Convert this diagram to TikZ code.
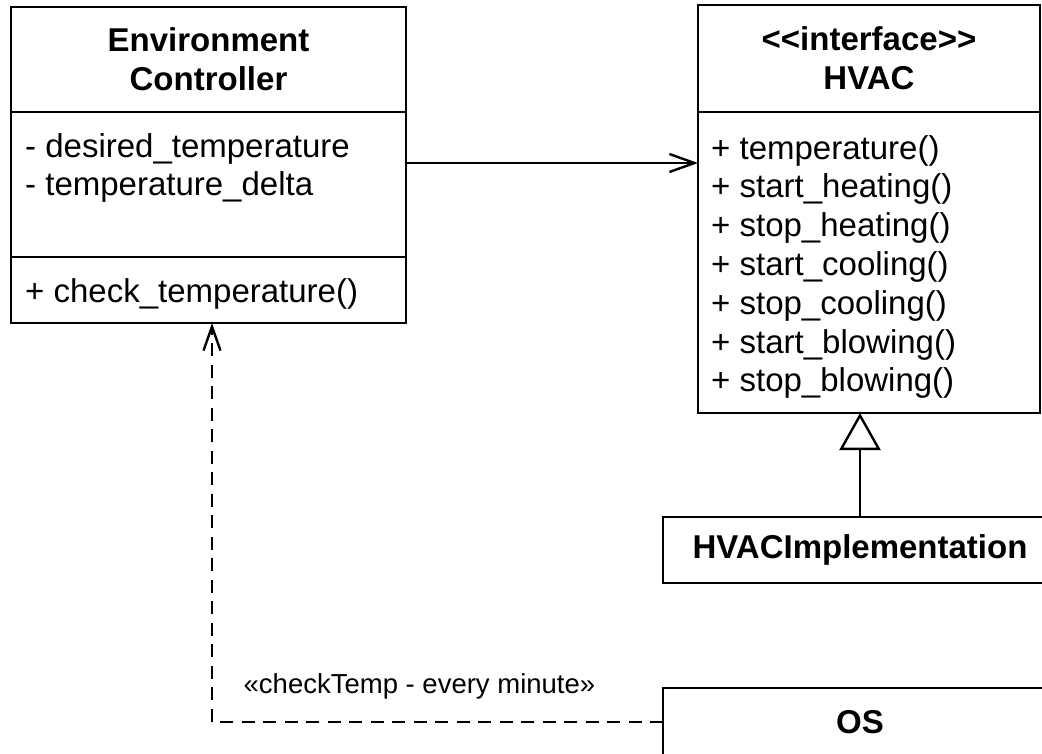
\documentclass[tikz,border=0pt]{standalone}
\usepackage{fontspec}
\setmainfont{Liberation Sans}
\usetikzlibrary{positioning,arrows.meta}

\begin{document}
\begin{tikzpicture}[x=1pt,y=-1pt,
    box/.style={draw,line width=2.4pt,inner sep=0pt,outer sep=0pt,anchor=north west},
    head/.style={box,font=\bfseries\fontsize{33}{39}\selectfont,align=center},
    member/.style={font=\fontsize{33}{39}\selectfont,inner sep=0pt,anchor=base west},
    assoc/.style={line width=2.4pt,-{Straight Barb[length=25pt,width=18pt]}},
    gen/.style={line width=2.4pt,-{Triangle[open,length=37pt,width=41pt]}},
    dep/.style={line width=2.4pt,dash pattern=on 13pt off 8.5pt,-{Straight Barb[length=24pt,width=17pt]}}]
  \path[use as bounding box,fill=white] (0,0) rectangle (1042,753);

  \node[head,minimum width=395pt,minimum height=105pt] (envhead) at (11,7) {Environment\\Controller};
  \node[box,below=0pt of envhead,minimum width=395pt,minimum height=145pt] (envattr) {};
  \node[box,below=0pt of envattr,minimum width=395pt,minimum height=66pt] (envmeth) {};
  \foreach[count=\i,evaluate={45+(\i-1)*38.5} as \dy] \a in {{desired\_temperature},{temperature\_delta}} {
    \node[member] at ([xshift=14pt,yshift=-\dy pt]envattr.north west) {- \a};
  }
  \node[member] (envop) at ([xshift=14pt,yshift=-12pt]envmeth.west) {+ check\_temperature()};

  \node[head,minimum width=342pt,minimum height=107pt] (hvachead) at (698,5) {{<}{<}interface{>}{>}\\HVAC};
  \node[box,below=0pt of hvachead,minimum width=342pt,minimum height=301pt] (hvacops) {};
  \foreach[count=\i,evaluate={47+(\i-1)*38.8} as \dy] \m in {{temperature()},{start\_heating()},{stop\_heating()},{start\_cooling()},{stop\_cooling()},{start\_blowing()},{stop\_blowing()}} {
    \node[member] at ([xshift=13pt,yshift=-\dy pt]hvacops.north west) {+ \m};
  }

  \node[head,minimum width=394pt,minimum height=66pt] (hvacimpl) at (663,517) {HVACImplementation};
  \node[head,minimum width=394pt,minimum height=68pt] (os) at (663,688) {OS};

  \draw[assoc] ([yshift=21.5pt]envattr.east) -- ([yshift=21.5pt]envattr.east -| hvacops.west);
  \draw[gen] (hvacimpl.north) -- (hvacimpl.north |- hvacops.south);
  \draw[dep] (os.west) -| ([xshift=3.5pt]envmeth.south)
    node[pos=0.27,anchor=base,yshift=29pt,font=\fontsize{27.5}{30}\selectfont] {«checkTemp - every minute»};
\end{tikzpicture}
\end{document}
